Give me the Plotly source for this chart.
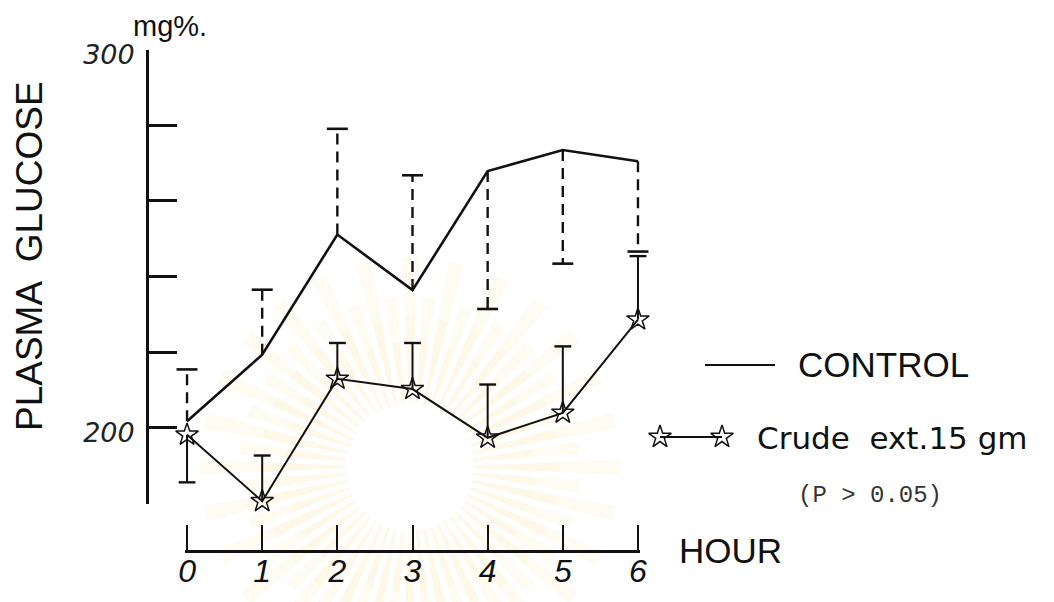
import math
import plotly.graph_objects as go

W, H = 1054, 602

# ---- data -------------------------------------------------------------
hours = [0, 1, 2, 3, 4, 5, 6]
hour_labels = ["0", "1", "2", "3", "4", "5", "6"]

control_mean = [201.7, 219.3, 251.1, 236.4, 267.9, 273.5, 270.5]
control_sd = [13.7, 17.2, 28.0, 30.4, 36.5, 30.1, 23.9]
control_bar_side = ["up", "up", "up", "up", "down", "down", "down"]

crude_mean = [198.1, 180.5, 212.9, 210.2, 197.3, 203.9, 228.6]
crude_sd = [12.6, 12.1, 9.5, 12.2, 14.1, 17.6, 16.8]
crude_bar_side = ["down", "up", "up", "up", "up", "up", "up"]

y_tick_vals = [180, 200, 220, 240, 260, 280, 300]
y_tick_text = ["", "200", "", "", "", "", "300"]

INK = "#111111"


def px_x(p):
    return p / W


def px_y(p):
    return 1 - p / H


def bar_segments(xs, means, sds, sides):
    """Vertical one-sided error segments plus their cap end points."""
    sx, sy, cx, cy = [], [], [], []
    for x, m, s, side in zip(xs, means, sds, sides):
        end = m + s if side == "up" else m - s
        sx += [x, x, None]
        sy += [m, end, None]
        cx.append(x)
        cy.append(end)
    return sx, sy, cx, cy


def sunburst_shapes(cx, cy, n_rays, r_in, r_long, r_short, half_width_deg, fill):
    """Pale sunburst seal printed behind the chart (paper coordinates)."""
    shapes = []
    for i in range(n_rays):
        a = 2 * math.pi * i / n_rays
        r_out = r_long if i % 2 == 0 else r_short
        hw = math.radians(half_width_deg)
        pts = [
            (cx + r_in * math.cos(a - hw * 0.5), cy + r_in * math.sin(a - hw * 0.5)),
            (cx + r_out * math.cos(a - hw), cy + r_out * math.sin(a - hw)),
            (cx + r_out * math.cos(a + hw), cy + r_out * math.sin(a + hw)),
            (cx + r_in * math.cos(a + hw * 0.5), cy + r_in * math.sin(a + hw * 0.5)),
        ]
        path = "M " + " L ".join(f"{px_x(x):.5f},{px_y(y):.5f}" for x, y in pts) + " Z"
        shapes.append(dict(type="path", path=path, xref="paper", yref="paper",
                           fillcolor=fill, line=dict(width=0), layer="below"))
    return shapes


star = dict(symbol="star-open", size=17, color=INK, line=dict(color=INK, width=1.5))

fig = go.Figure()

# control: dashed one-sided error bars
sx, sy, cx, cy = bar_segments(hours, control_mean, control_sd, control_bar_side)
fig.add_trace(go.Scatter(x=sx, y=sy, mode="lines",
                         line=dict(color=INK, width=2.4, dash="11px,7px"),
                         hoverinfo="skip", showlegend=False))
fig.add_trace(go.Scatter(x=cx, y=cy, mode="markers", cliponaxis=False,
                         marker=dict(symbol="line-ew", size=15, color=INK,
                                     line=dict(color=INK, width=2.6)),
                         hoverinfo="skip", showlegend=False))

# crude extract: solid one-sided error bars
sx, sy, cx, cy = bar_segments(hours, crude_mean, crude_sd, crude_bar_side)
fig.add_trace(go.Scatter(x=sx, y=sy, mode="lines",
                         line=dict(color=INK, width=2.0),
                         hoverinfo="skip", showlegend=False))
fig.add_trace(go.Scatter(x=cx, y=cy, mode="markers", cliponaxis=False,
                         marker=dict(symbol="line-ew", size=12, color=INK,
                                     line=dict(color=INK, width=2.4)),
                         hoverinfo="skip", showlegend=False))

# mean curves
fig.add_trace(go.Scatter(x=hours, y=control_mean, mode="lines",
                         line=dict(color=INK, width=2.6),
                         name="CONTROL", showlegend=False))
fig.add_trace(go.Scatter(x=hours, y=crude_mean, mode="lines+markers",
                         cliponaxis=False,
                         line=dict(color=INK, width=2.0),
                         marker=star,
                         name="Crude ext.15gm", showlegend=False))

# legend samples drawn on a full-page overlay in pixel units
fig.add_trace(go.Scatter(x=[705, 775], y=[365, 365], mode="lines",
                         xaxis="x2", yaxis="y2",
                         line=dict(color=INK, width=2.2),
                         hoverinfo="skip", showlegend=False))
fig.add_trace(go.Scatter(x=[660, 722], y=[437, 437], mode="lines+markers",
                         xaxis="x2", yaxis="y2", cliponaxis=False,
                         line=dict(color=INK, width=2.0),
                         marker=star,
                         hoverinfo="skip", showlegend=False))

seal = (sunburst_shapes(410, 467, 56, 64, 210, 170, 2.2, "rgba(250,238,200,0.22)")
        + sunburst_shapes(410, 467, 56, 64, 150, 125, 1.8, "rgba(250,236,195,0.22)"))

fig.update_layout(
    template="none",
    width=W, height=H,
    margin=dict(l=0, r=0, t=0, b=0, autoexpand=False),
    paper_bgcolor="white", plot_bgcolor="rgba(0,0,0,0)",
    showlegend=False,
    shapes=seal,
    xaxis=dict(
        domain=[px_x(185.0), px_x(640.0)], range=[-0.027, 6.027],
        anchor="free", position=px_y(551), automargin=False,
        tickmode="array", tickvals=hours, ticktext=hour_labels,
        ticks="inside", ticklen=25, tickwidth=2.4, tickcolor=INK,
        showline=True, linewidth=2.6, linecolor=INK,
        showgrid=False, zeroline=False,
        tickfont=dict(family="Liberation Sans", size=32, color=INK,
                      style="italic", weight=300),
        ticklabelstandoff=-9,
    ),
    yaxis=dict(
        domain=[px_y(503.5), px_y(49.5)], range=[179.9, 300.1],
        anchor="free", position=px_x(147), automargin=False,
        tickmode="array", tickvals=y_tick_vals, ticktext=y_tick_text,
        ticks="inside", ticklen=28, tickwidth=2.6, tickcolor=INK,
        showline=True, linewidth=2.8, linecolor=INK,
        showgrid=False, zeroline=False,
        tickfont=dict(family="DejaVu Sans", size=27, color="#222222",
                      style="italic", weight=200),
        ticklabelstandoff=6, ticklabelshift=5,
    ),
    xaxis2=dict(domain=[0, 1], range=[0, W], anchor="y2", visible=False,
                fixedrange=True),
    yaxis2=dict(domain=[0, 1], range=[H, 0], anchor="x2", visible=False,
                fixedrange=True),
)

sans = "Liberation Sans"

fig.add_annotation(text="PLASMA  GLUCOSE", textangle=-90,
                   xref="paper", yref="paper", x=px_x(29), y=px_y(256),
                   xanchor="center", yanchor="middle", showarrow=False,
                   font=dict(family=sans, size=37, color=INK))
fig.add_annotation(text="mg%.", xref="paper", yref="paper",
                   x=px_x(170), y=px_y(26), xanchor="center", yanchor="middle",
                   showarrow=False, font=dict(family=sans, size=29, color=INK))
fig.add_annotation(text="CONTROL", xref="paper", yref="paper",
                   x=px_x(796), y=px_y(364), xanchor="left", yanchor="middle",
                   showarrow=False, font=dict(family=sans, size=35, color=INK))
fig.add_annotation(text="Crude  ext.15 gm", xref="paper", yref="paper",
                   x=px_x(755), y=px_y(438), xanchor="left", yanchor="middle",
                   showarrow=False,
                   font=dict(family="DejaVu Sans", size=31, color=INK))
fig.add_annotation(text="(P > 0.05)", xref="paper", yref="paper",
                   x=px_x(796), y=px_y(495), xanchor="left", yanchor="middle",
                   showarrow=False,
                   font=dict(family="Liberation Mono", size=24, color="#333333"))
fig.add_annotation(text="HOUR", xref="paper", yref="paper",
                   x=px_x(677), y=px_y(550), xanchor="left", yanchor="middle",
                   showarrow=False, font=dict(family=sans, size=35, color=INK))

fig.write_html("out.html")
